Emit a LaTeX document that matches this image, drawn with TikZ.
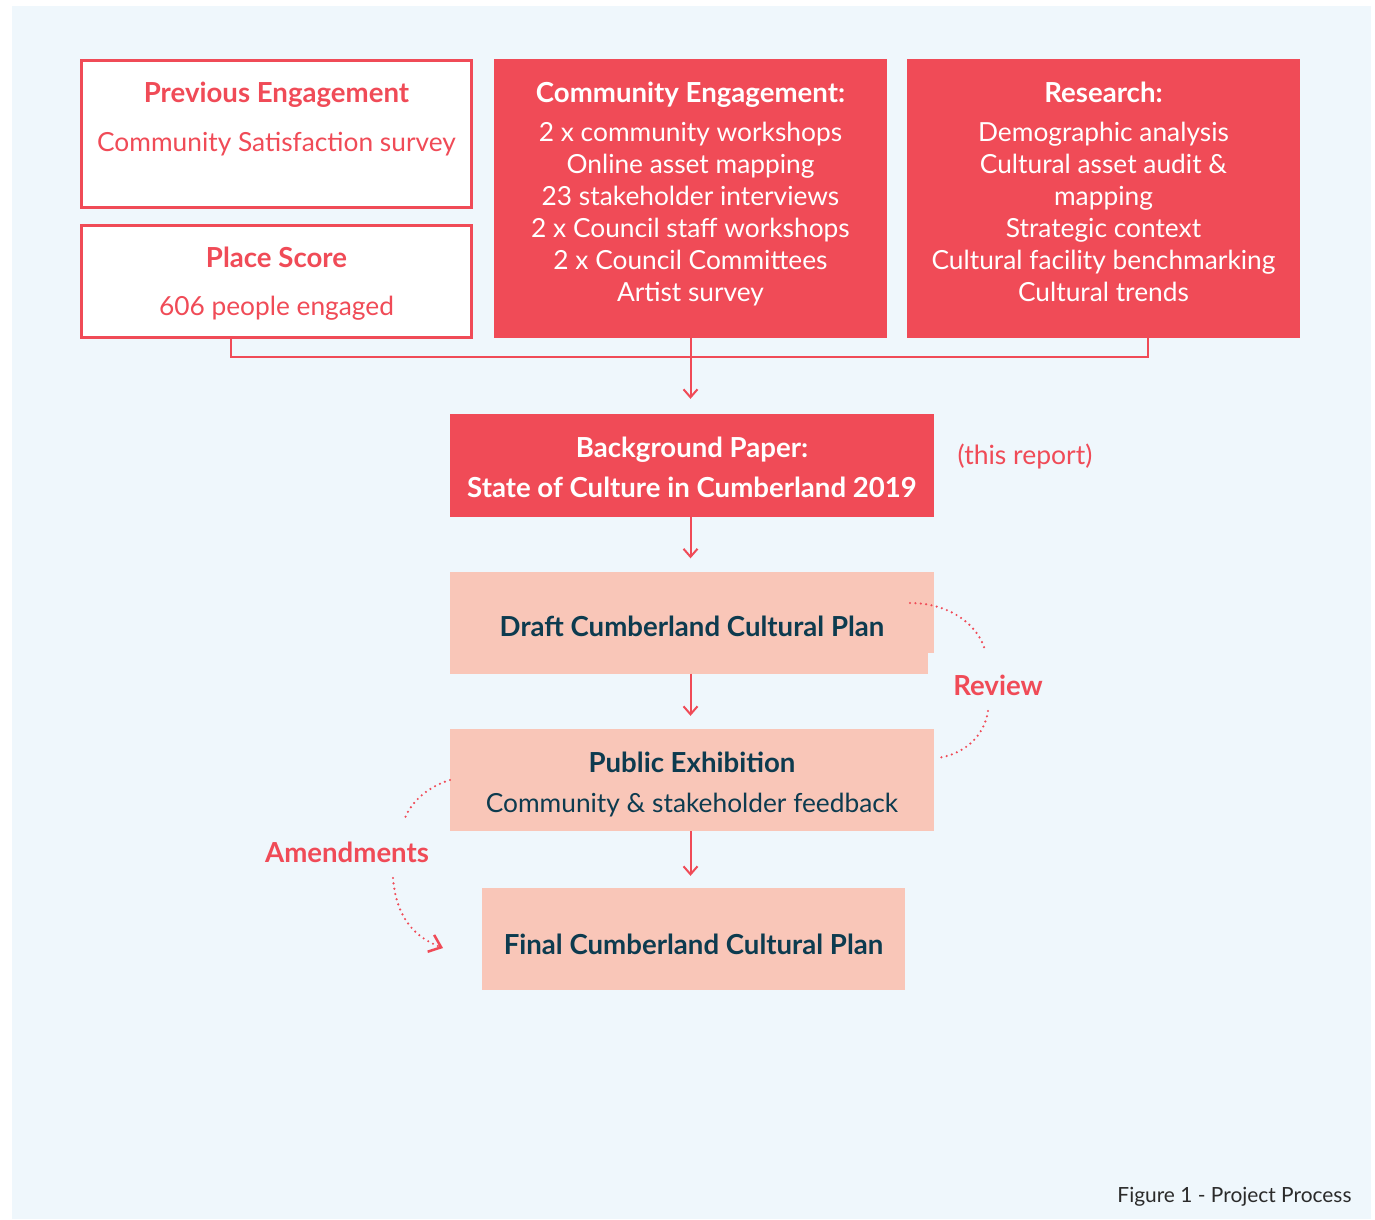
\documentclass[tikz,border=0pt]{standalone}
\usepackage{fontspec}
\setmainfont{Lato}
\usetikzlibrary{arrows.meta}
\definecolor{cred}{HTML}{F04B57}
\definecolor{cpink}{HTML}{F9C6B8}
\definecolor{cteal}{HTML}{0D3B4F}
\definecolor{cbg}{HTML}{EFF7FC}
\definecolor{ccap}{HTML}{2B2B2B}
% heading line, and invisible struts that fix the text block height
\newcommand{\boxhead}[1]{{\fontsize{27.6}{32}\selectfont\bfseries #1}}
\newcommand{\padtop}[1]{\rule{0pt}{#1pt}}
\newcommand{\padbot}[1]{\rule[-#1pt]{0pt}{#1pt}}

\begin{document}
\begin{tikzpicture}[x=1pt,y=-1pt,
  outline/.style={draw=cred, line width=2.5pt, fill=white, inner sep=0pt, align=center,
    text=cred, minimum width=390pt, font=\fontsize{26.3}{32}\selectfont},
  redbox/.style={fill=cred, inner sep=0pt, align=center, text=white,
    minimum width=393pt, minimum height=279pt, font=\fontsize{26.3}{32}\selectfont},
  pinkbox/.style={fill=cpink, inner sep=0pt, align=center, text=cteal,
    minimum height=102pt, font=\fontsize{26.3}{32}\selectfont},
  link/.style={draw=cred, line width=2pt},
  step arrow/.style={link, -{Straight Barb[length=8pt,width=14pt,line width=2pt]}},
  dots/.style={draw=cred, line width=2.4pt, line cap=round, dash pattern=on 0pt off 5.4pt},
  tag/.style={text=cred, font=\fontsize{27.6}{32}\selectfont\bfseries}]
%\draw[help lines, color=gray!30, dashed] (0,0) grid[step=50] (1375,1219);
\useasboundingbox (0,0) rectangle (1375,1219);
\fill[white] (0,0) rectangle (1375,1219);
\fill[cbg] (12,6) rectangle (1371,1219);

% inputs
\node[outline, minimum height=147pt] (prev) at (276.5,134)
  {\padtop{24}\boxhead{Previous Engagement}\\[17pt] Community Satisfaction survey\padbot{37.6}};
\node[outline, minimum height=112pt] (place) at (276.5,281.5)
  {\padtop{29}\boxhead{Place Score}\\[16pt] 606 people engaged\padbot{8.6}};
\node[redbox] (community) at (690.5,198.5)
  {\padtop{27}\boxhead{Community Engagement:}\\[7.4pt] 2 x community workshops\\ Online asset mapping\\
   23 stakeholder interviews\\ 2 x Council staff workshops\\ 2 x Council Committees\\ Artist survey\padbot{20}};
\node[redbox] (research) at (1103.5,198.5)
  {\padtop{27}\boxhead{Research:}\\[7.4pt] Demographic analysis\\ Cultural asset audit \&\\ mapping\\
   Strategic context\\ Cultural facility benchmarking\\ Cultural trends\padbot{20}};

% steps
\node[redbox, minimum width=484pt, minimum height=103pt, font=\fontsize{27.6}{40}\selectfont\bfseries]
  (paper) at (692,465.5) {\padtop{31.5}Background Paper:\\ State of Culture in Cumberland 2019\padbot{8}};
\node[text=cred, font=\fontsize{26.5}{32}\selectfont] (report) at (1025,456) {(this report)};
\node[pinkbox, minimum width=484pt, font=\fontsize{27.6}{32}\selectfont\bfseries]
  (draft) at (692,622.5) {\padtop{31}Draft Cumberland Cultural Plan\padbot{3}};
\fill[cbg] (928,653) rectangle (934.5,674);
\node[pinkbox, minimum width=484pt, font=\fontsize{26.3}{40}\selectfont]
  (exhibit) at (692,780) {\padtop{33}\boxhead{Public Exhibition}\\ Community \& stakeholder feedback\padbot{8.6}};
\node[pinkbox, minimum width=423pt, font=\fontsize{27.6}{32}\selectfont\bfseries]
  (final) at (693.5,939) {\padtop{31}Final Cumberland Cultural Plan\padbot{1}};

% joins
\coordinate (jl) at (231,357);
\coordinate (jr) at (1148,357);
\draw[link] (place.south -| jl) -- (jl) -- (jr) -- (research.south -| jr);
\draw[step arrow, shorten >=15pt] (community.south) -- (paper.north -| community.south);
\draw[step arrow, shorten >=13pt] (paper.south -| community.south) -- (draft.north -| community.south);
\draw[step arrow, shorten >=13pt] (draft.south -| community.south) -- (exhibit.north -| community.south);
\draw[step arrow, shorten >=12pt] (exhibit.south -| community.south) -- (final.north -| community.south);

% review loop
\node[tag] (review) at (998,685) {Review};
\coordinate (r1) at (910,603);
\coordinate (r2) at (985,650);
\coordinate (r3) at (988,711);
\coordinate (r4) at (937,758);
\draw[dots] (r1) .. controls (950,603) and (978,625) .. (r2);
\draw[dots] (r3) .. controls (984,738) and (962,755) .. (r4);

% amendments loop
\node[tag] (amend) at (347,852) {Amendments};
\coordinate (a1) at (450,780);
\coordinate (a2) at (405,818);
\coordinate (a3) at (393,878);
\coordinate (a4) at (443,948);
\draw[dots] (a1) .. controls (430,786) and (412,800) .. (a2);
\draw[dots, -{Straight Barb[length=11pt,width=18pt,line width=2.5pt]}] (a3) .. controls (396,915) and (412,936) .. (a4);

\node[anchor=base east, text=ccap, font=\fontsize{20.9}{24}\selectfont] (caption) at (1355,1202)
  {Figure 1 - Project Process};
\end{tikzpicture}
\end{document}
